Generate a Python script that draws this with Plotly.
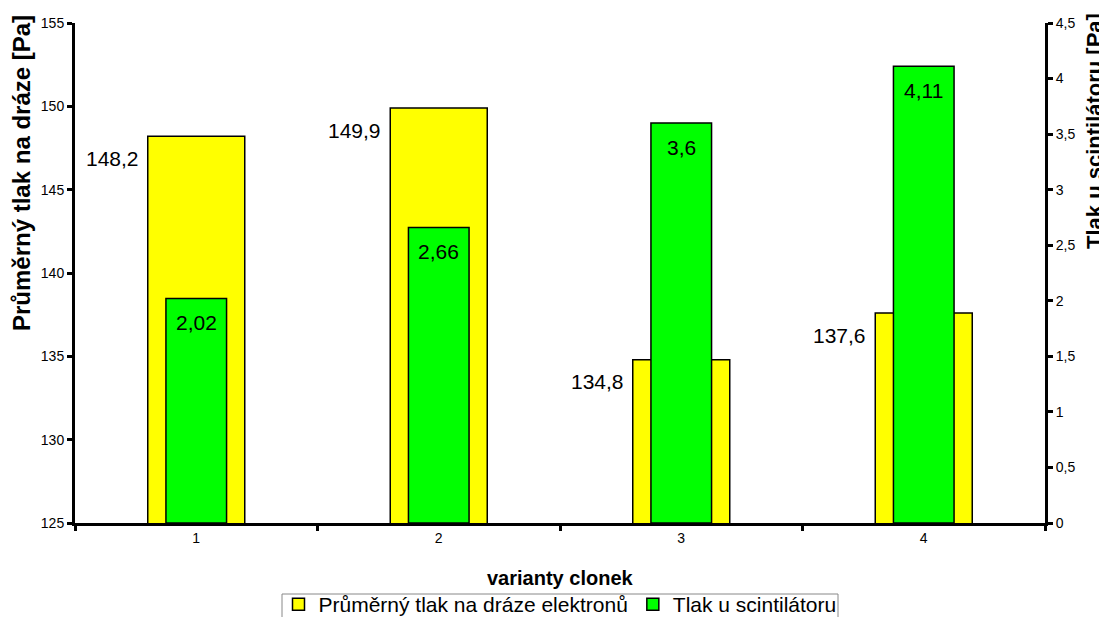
import plotly.graph_objects as go

categories = [1, 2, 3, 4]
tick_labels = ["1", "2", "3", "4"]
tlak_draha = [148.2, 149.9, 134.8, 137.6]
tlak_scint = [2.02, 2.66, 3.6, 4.11]
name_draha = "Průměrný tlak na dráze elektronů"
name_scint = "Tlak u scintilátoru"

FONT = "Liberation Sans, Arial, sans-serif"
W, H = 1107, 617
OFF = 8  # page body margin
# target screen positions of plot area
SX0, SX1, SY0, SY1 = 75, 1045, 23, 523
L = SX0 - OFF
T = SY0 - OFF
R = W - (SX1 - OFF)
B = H - (SY1 - OFF)
PW, PH = W - L - R, H - T - B
cat_px = PW / 4.0

fig = go.Figure()
fig.add_trace(go.Bar(
    x=categories, y=tlak_draha, name=name_draha, width=0.4,
    marker=dict(color="#FFFF00", line=dict(color="black", width=1.5)),
    yaxis="y",
))
fig.add_trace(go.Bar(
    x=categories, y=tlak_scint, name=name_scint, width=0.25,
    marker=dict(color="#00FF00", line=dict(color="black", width=1.5)),
    yaxis="y2",
))

def fmt(v):
    return f"{v:g}".replace(".", ",")

def px_x(sx):
    return (sx - SX0) / PW

def px_y(sy):
    return (SY1 - sy) / PH

annotations = []
for c, v in zip(categories, tlak_draha):
    annotations.append(dict(
        x=c, y=v, xref="x", yref="y", text=fmt(v), showarrow=False,
        xanchor="right", yanchor="middle", xshift=-(0.2 * cat_px) - 7, yshift=-22,
        font=dict(family=FONT, size=21, color="black"),
    ))
for c, v in zip(categories, tlak_scint):
    annotations.append(dict(
        x=c, y=v, xref="x", yref="y2", text=fmt(v), showarrow=False,
        xanchor="center", yanchor="middle", yshift=-24,
        font=dict(family=FONT, size=21, color="black"),
    ))
# axis titles
annotations.append(dict(
    x=0.5, y=px_y(578), xref="paper", yref="paper",
    text="<b>varianty clonek</b>", showarrow=False, xanchor="center", yanchor="middle",
    font=dict(family=FONT, size=20, color="black"),
))
annotations.append(dict(
    x=px_x(21), y=px_y(173), xref="paper", yref="paper",
    text="<b>Průměrný tlak na dráze [Pa]</b>", showarrow=False, textangle=-90,
    xanchor="center", yanchor="middle",
    font=dict(family=FONT, size=24, color="black"),
))
annotations.append(dict(
    x=px_x(1095), y=px_y(131), xref="paper", yref="paper",
    text="<b>Tlak u scintilátoru [Pa]</b>", showarrow=False, textangle=-90,
    xanchor="center", yanchor="middle",
    font=dict(family=FONT, size=22, color="black"),
))

shapes = [dict(
    type="rect", xref="paper", yref="paper",
    x0=px_x(282), x1=px_x(838), y0=px_y(594), y1=px_y(619),
    line=dict(color="#888888", width=1), fillcolor="rgba(0,0,0,0)", layer="above",
)]

fig.update_layout(
    width=W, height=H,
    margin=dict(l=L, r=R, t=T, b=B, autoexpand=False),
    paper_bgcolor="white", plot_bgcolor="white",
    barmode="overlay",
    separators=", ",
    font=dict(family=FONT, size=14, color="black"),
    showlegend=True,
    legend=dict(
        orientation="h", x=0.5, xanchor="center",
        y=px_y(584), yanchor="top",
        bgcolor="rgba(0,0,0,0)", borderwidth=0,
        font=dict(family=FONT, size=21, color="black"),
        itemwidth=30, tracegroupgap=0,
    ),
    xaxis=dict(
        range=[0.5, 4.5], tickvals=categories, ticktext=tick_labels,
        ticks="", showgrid=False, zeroline=False,
        showline=True, linecolor="black", linewidth=3,
        tickfont=dict(family=FONT, size=14),
        minor=dict(ticks="outside", tick0=0.5, dtick=1, ticklen=5, tickwidth=3, tickcolor="black"),
    ),
    yaxis=dict(
        range=[125, 155], dtick=5, tick0=125, showgrid=False, zeroline=False,
        showline=True, linecolor="black", linewidth=3,
        ticks="outside", ticklen=5, tickwidth=3, tickcolor="black",
        tickfont=dict(family=FONT, size=14),
    ),
    yaxis2=dict(
        range=[0, 4.5], dtick=0.5, tick0=0, overlaying="y", side="right",
        showgrid=False, zeroline=False,
        showline=True, linecolor="black", linewidth=3,
        ticks="outside", ticklen=5, tickwidth=3, tickcolor="black",
        tickfont=dict(family=FONT, size=14),
    ),
    annotations=annotations,
    shapes=shapes,
)

fig.write_html("out.html")
